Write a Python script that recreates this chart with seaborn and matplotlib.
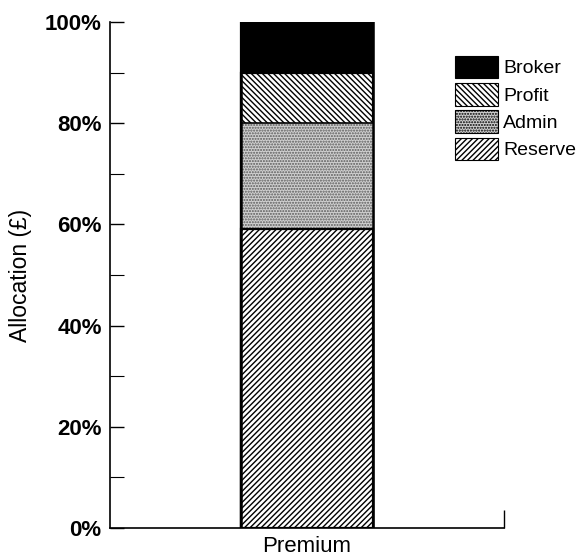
import matplotlib
matplotlib.use("Agg")
import matplotlib.pyplot as plt
import seaborn as sns
import numpy as np
from matplotlib.patches import Patch
from matplotlib.ticker import MultipleLocator, FuncFormatter

categories = ["Premium"]
segments = ["Reserve", "Admin", "Profit", "Broker"]
values = [59, 21, 10, 10]
y_ticks = [0, 20, 40, 60, 80, 100]

sns.set_theme(style="ticks")
plt.rcParams['font.family'] = ['Liberation Sans', 'DejaVu Sans']
plt.rcParams['hatch.linewidth'] = 1.0
plt.rcParams['hatch.color'] = 'black'
plt.rcParams['text.color'] = 'black'
plt.rcParams['axes.labelcolor'] = 'black'
plt.rcParams['xtick.color'] = 'black'
plt.rcParams['ytick.color'] = 'black'
plt.rcParams['axes.edgecolor'] = 'black'

styles = {
    "Reserve": dict(facecolor="white", hatch="/" * 6),
    "Admin": dict(facecolor="#d0d0d0", hatch="......"),
    "Profit": dict(facecolor="white", hatch="\\" * 6),
    "Broker": dict(facecolor="black", hatch=None),
}

fig = plt.figure(figsize=(5.84, 5.59), dpi=100)
ax = fig.add_axes([110/584, 31/559, 394/584, 506/559])

cum = np.cumsum(values)
# draw from the tallest cumulative down so lower segments overlay
for name, top in reversed(list(zip(segments, cum))):
    st = styles[name]
    sns.barplot(x=categories, y=[top], ax=ax, width=0.335,
                color=st["facecolor"], edgecolor="black", linewidth=1.6,
                saturation=1)
    bar = ax.patches[-1]
    bar.set_facecolor(st["facecolor"])
    if st["hatch"]:
        bar.set_hatch(st["hatch"])
    if name == "Admin":
        bar.set_edgecolor("#5a5a5a")
        bar.set_linewidth(0)
# black outline and segment boundaries
ax.bar(0, cum[-1], width=0.335, facecolor="none", edgecolor="black", linewidth=1.8, zorder=5)
for b in cum[:-1]:
    ax.plot([-0.335/2, 0.335/2], [b, b], color="black", lw=1.2, zorder=6)

ax.set_xlim(-0.5, 0.5)
ax.set_ylim(0, 100)
ax.set_yticks(y_ticks)
ax.yaxis.set_minor_locator(MultipleLocator(10))
ax.yaxis.set_major_formatter(FuncFormatter(lambda v, p: f"{int(v)}%"))
ax.tick_params(axis="y", which="major", length=10, width=1, labelsize=16, direction="in", pad=6)
ax.tick_params(axis="y", which="minor", length=10, width=0.8, direction="in")
ax.set_xticks([0])
ax.set_xticklabels(categories)
ax.set_xticks([0.5], minor=True)
ax.tick_params(axis="x", which="major", length=0, labelsize=16, pad=6)
ax.tick_params(axis="x", which="minor", length=13, width=1, direction="in")
for lab in ax.get_yticklabels():
    lab.set_fontweight("bold")
ax.set_xlabel("")
ax.set_ylabel("Allocation (£)", fontsize=16.5, labelpad=9)
sns.despine(ax=ax)
ax.spines["left"].set_linewidth(1.2)
ax.spines["bottom"].set_linewidth(1.2)

handles = [Patch(facecolor=styles[n]["facecolor"], edgecolor="black",
                 hatch=styles[n]["hatch"], label=n, linewidth=0.8)
           for n in ["Broker", "Profit", "Admin", "Reserve"]]
fig.legend(handles=handles, loc="upper left", bbox_to_anchor=(447/584, 1 - 48/559),
           frameon=False, fontsize=14, handlelength=2.2, handleheight=1.4,
           handletextpad=0.3, labelspacing=0.25, borderaxespad=0)

fig.savefig("out.png", dpi=100)
